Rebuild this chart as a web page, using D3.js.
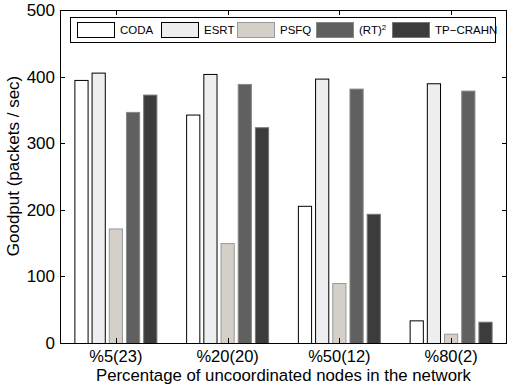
<!DOCTYPE html>
<html lang="en">
<head>
    <meta charset="UTF-8">
    <title>Goodput vs uncoordinated nodes</title>
    <script src="https://d3js.org/d3.v7.min.js"></script>
    <style>
        body { margin: 0; background: #fff; }
        text { font-family: "Liberation Sans", Arial, Helvetica, sans-serif; fill: #000; }
    </style>
</head>
<body>
    <svg width="508" height="385"></svg>

    <script>
        // Data
        const categories = ["%5(23)", "%20(20)", "%50(12)", "%80(2)"];
        const series = ["CODA", "ESRT", "PSFQ", "RT2", "TP-CRAHN"];
        const coda  = [395, 343, 206, 34];
        const esrt  = [406, 404, 397, 390];
        const psfq  = [172, 150, 90, 14];
        const rt2   = [347, 389, 382, 379];
        const tp    = [373, 324, 194, 32];
        const yTicks = [0, 100, 200, 300, 400, 500];

        const values = { "CODA": coda, "ESRT": esrt, "PSFQ": psfq, "RT2": rt2, "TP-CRAHN": tp };
        const fills   = { "CODA": "#ffffff", "ESRT": "#eeeeee", "PSFQ": "#d4d0c8", "RT2": "#606060", "TP-CRAHN": "#3c3c3c" };
        const strokes = { "CODA": "#000", "ESRT": "#000", "PSFQ": "#999", "RT2": "#888", "TP-CRAHN": "#777" };

        const margin = { top: 10, right: 1, bottom: 42, left: 60 };
        const width = 508, height = 385;
        const x0 = margin.left, x1 = width - margin.right;
        const y0 = height - margin.bottom, y1 = margin.top;

        const svg = d3.select("svg");

        const xScale = d3.scaleBand().domain(categories).range([x0, x1]);
        const yScale = d3.scaleLinear().domain([0, 500]).range([y0, y1]);

        // bars inside one group
        const inner = d3.scaleBand().domain(series)
            .range([-41.5, 41.5]).paddingInner(0.174).paddingOuter(0);

        const rows = [];
        categories.forEach((c, i) => {
            series.forEach(s => rows.push({ cat: c, s: s, v: values[s][i] }));
        });

        svg.append("g").selectAll("rect")
            .data(rows)
            .join("rect")
            .attr("x", d => xScale(d.cat) + xScale.bandwidth() / 2 + inner(d.s) + 0.5)
            .attr("y", d => yScale(d.v) + 0.5)
            .attr("width", inner.bandwidth() - 1)
            .attr("height", d => yScale(0) - yScale(d.v))
            .attr("fill", d => fills[d.s])
            .attr("stroke", d => strokes[d.s])
            .attr("stroke-width", 1);

        // box frame
        svg.append("rect")
            .attr("x", x0 + 0.5).attr("y", y1 + 0.5)
            .attr("width", x1 - x0 - 1).attr("height", y0 - y1)
            .attr("fill", "none").attr("stroke", "#000").attr("stroke-width", 1);

        // y axis ticks (inward, both sides) and labels
        const yt = svg.append("g");
        yt.selectAll("line.l").data(yTicks).join("line")
            .attr("x1", x0).attr("x2", x0 + 5)
            .attr("y1", d => Math.round(yScale(d)) + 0.5).attr("y2", d => Math.round(yScale(d)) + 0.5)
            .attr("stroke", "#000");
        yt.selectAll("line.r").data(yTicks).join("line")
            .attr("x1", x1 - 5).attr("x2", x1)
            .attr("y1", d => Math.round(yScale(d)) + 0.5).attr("y2", d => Math.round(yScale(d)) + 0.5)
            .attr("stroke", "#000");
        yt.selectAll("text").data(yTicks).join("text")
            .attr("x", x0 - 5)
            .attr("y", d => yScale(d) + 6)
            .attr("text-anchor", "end")
            .attr("font-size", 17)
            .text(d => d);

        // x axis ticks (inward, top and bottom) and labels
        const xt = svg.append("g");
        const cx = c => Math.round(xScale(c) + xScale.bandwidth() / 2) + 0.5;
        xt.selectAll("line.t").data(categories).join("line")
            .attr("x1", cx).attr("x2", cx)
            .attr("y1", y1).attr("y2", y1 + 5)
            .attr("stroke", "#000");
        xt.selectAll("line.b").data(categories).join("line")
            .attr("x1", cx).attr("x2", cx)
            .attr("y1", y0 - 5).attr("y2", y0)
            .attr("stroke", "#000");
        xt.selectAll("text").data(categories).join("text")
            .attr("x", c => xScale(c) + xScale.bandwidth() / 2)
            .attr("y", 362)
            .attr("text-anchor", "middle")
            .attr("font-size", 16.5)
            .text(c => c);

        // axis titles
        svg.append("text")
            .attr("x", (x0 + x1) / 2).attr("y", 381)
            .attr("text-anchor", "middle")
            .attr("font-size", 16.8)
            .text("Percentage of uncoordinated nodes in the network");

        svg.append("text")
            .attr("transform", "translate(19,166) rotate(-90)")
            .attr("text-anchor", "middle")
            .attr("font-size", 17)
            .text("Goodput (packets / sec)");

        // legend
        const legendX = [77, 161, 237, 316, 392];
        const lg = svg.append("g");
        lg.append("rect")
            .attr("x", 70.5).attr("y", 17.5)
            .attr("width", 425).attr("height", 25)
            .attr("fill", "#fff").attr("stroke", "#000").attr("stroke-width", 1);

        series.forEach((s, i) => {
            lg.append("rect")
                .attr("x", legendX[i] + 0.5).attr("y", 22.5)
                .attr("width", 37).attr("height", 15)
                .attr("fill", fills[s])
                .attr("stroke", s === "CODA" || s === "ESRT" ? "#000" : strokes[s]);
            const t = lg.append("text")
                .attr("x", legendX[i] + 43).attr("y", 34)
                .attr("font-size", 11.5);
            if (s === "RT2") {
                t.append("tspan").text("(RT)");
                t.append("tspan").attr("dy", -4).attr("font-size", 8).text("2");
            } else if (s === "TP-CRAHN") {
                t.text("TP\u2212CRAHN");
            } else {
                t.text(s);
            }
        });
    </script>
</body>
</html>
